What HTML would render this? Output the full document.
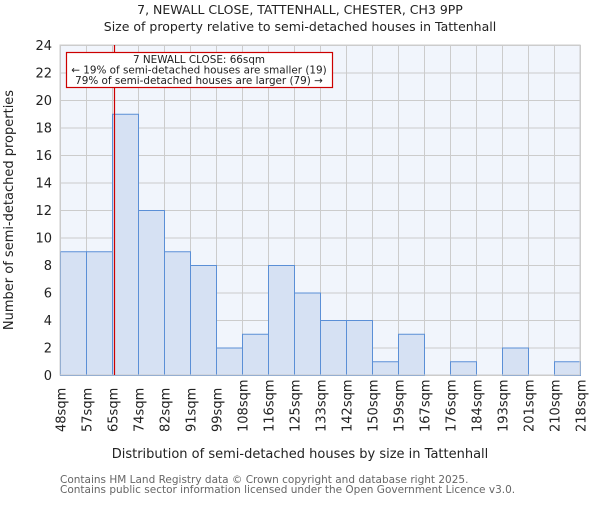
<!DOCTYPE html>
<html><head><meta charset="utf-8"><style>
body{margin:0;background:#fff}
svg text{font-family:"DejaVu Sans","Liberation Sans",sans-serif}
</style></head><body>
<svg width="600" height="500" xmlns="http://www.w3.org/2000/svg">
<rect width="600" height="500" fill="#fff"/>
<text x="300" y="14" font-size="12.5" text-anchor="middle" fill="#222">7, NEWALL CLOSE, TATTENHALL, CHESTER, CH3 9PP</text>
<text x="300" y="31" font-size="12.5" text-anchor="middle" fill="#222">Size of property relative to semi-detached houses in Tattenhall</text>
<rect x="60" y="45" width="520" height="330" fill="#f1f5fc"/>
<g stroke="#cccccc" stroke-width="1" id="grid"></g>
<g id="bars"></g>
<rect x="60" y="45" width="520" height="330" fill="none" stroke="#cccccc"/>
<line x1="114.5" y1="45" x2="114.5" y2="375" stroke="#cc0000" stroke-width="1.2"/>
<rect x="66.5" y="52.5" width="266" height="35" fill="#fff" stroke="#cc0000" stroke-width="1.2"/>
<text x="199" y="63" font-size="10.4" text-anchor="middle" fill="#222">7 NEWALL CLOSE: 66sqm</text>
<text x="199" y="73.5" font-size="10.4" text-anchor="middle" fill="#222">← 19% of semi-detached houses are smaller (19)</text>
<text x="199" y="84" font-size="10.4" text-anchor="middle" fill="#222">79% of semi-detached houses are larger (79) →</text>
<g id="ylab" font-size="13" text-anchor="end" fill="#222"></g>
<g id="xlab" font-size="13" fill="#222"></g>
<text x="300" y="458" font-size="13" text-anchor="middle" fill="#222">Distribution of semi-detached houses by size in Tattenhall</text>
<text transform="translate(13,210) rotate(-90)" font-size="13" text-anchor="middle" fill="#222">Number of semi-detached properties</text>
<text x="60" y="483" font-size="10.5" fill="#666">Contains HM Land Registry data © Crown copyright and database right 2025.</text>
<text x="60" y="493" font-size="10.5" fill="#666">Contains public sector information licensed under the Open Government Licence v3.0.</text>
</svg>
<script>
var ns="http://www.w3.org/2000/svg";
function el(t,a,p,txt){var e=document.createElementNS(ns,t);for(var k in a)e.setAttribute(k,a[k]);if(txt!=null)e.textContent=txt;document.getElementById(p).appendChild(e);}
var vals=[9,9,19,12,9,8,2,3,8,6,4,4,1,3,0,1,0,2,0,1];
var labs=["48sqm","57sqm","65sqm","74sqm","82sqm","91sqm","99sqm","108sqm","116sqm","125sqm","133sqm","142sqm","150sqm","159sqm","167sqm","176sqm","184sqm","193sqm","201sqm","210sqm","218sqm"];
for(var i=0;i<=20;i++){var x=60+i*26+0.5;el("line",{x1:x,y1:45,x2:x,y2:375},"grid");
 el("text",{transform:"translate("+(x+5)+",432) rotate(-90)"},"xlab",labs[i]);}
for(var v=0;v<=24;v+=2){var y=375-v*13.75+0.5;el("line",{x1:60,y1:y,x2:580,y2:y},"grid");el("text",{x:52,y:y+4.5},"ylab",v);}
vals.forEach(function(v,i){if(!v)return;el("rect",{x:60+i*26+0.5,y:375-v*13.75+0.5,width:26,height:v*13.75,fill:"#d6e1f3",stroke:"#5b8fd6","stroke-width":1},"bars");});
</script>
</body></html>
